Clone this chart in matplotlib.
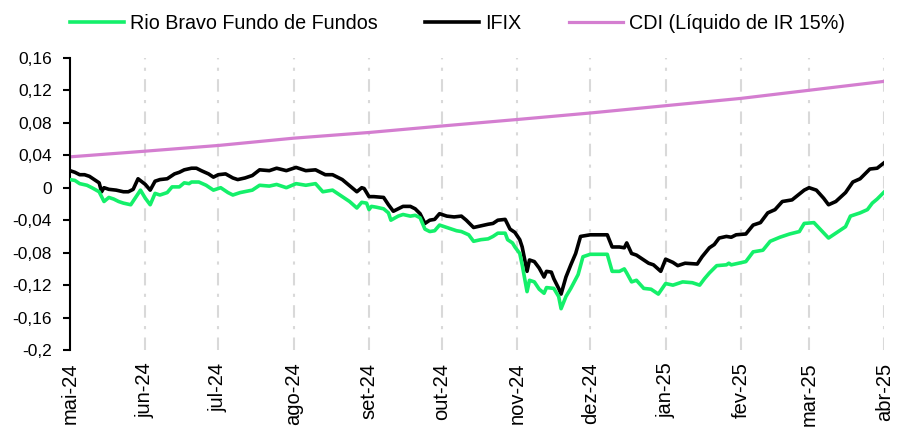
import numpy as np
import pandas as pd
import matplotlib
matplotlib.use('Agg')
import matplotlib.pyplot as plt
import matplotlib.dates as mdates
from matplotlib.ticker import FuncFormatter

plt.rcParams['font.family'] = ['Liberation Sans', 'DejaVu Sans']

start = pd.Timestamp('2024-05-01')

# IFIX - retorno acumulado (dias desde 01/05/2024)
ifix_days = [0, 2, 4, 6, 8, 10, 12, 13, 14, 16, 19, 22, 24, 26, 28, 31, 33, 35, 37, 40,
             43, 45, 47, 50, 52, 54, 57, 59, 61, 64, 67, 69, 72, 75, 78, 82, 85, 89, 93, 97,
             101, 105, 108, 112, 116, 118, 120, 121, 123, 125, 129, 131, 133, 135, 137, 140, 142, 144, 146, 148,
             150, 152, 155, 158, 161, 163, 166, 169, 172, 174, 176, 179, 181, 183, 185, 186, 188, 189, 191, 193,
             195, 196, 198, 199, 201, 202, 204, 206, 208, 210, 212, 214, 221, 223, 226, 228, 229, 231, 233, 236,
             238, 240, 243, 245, 248, 250, 253, 258, 260, 263, 265, 267, 270, 272, 274, 278, 281, 284, 287, 290,
             293, 297, 302, 304, 307, 310, 312, 315, 319, 322, 325, 329, 332, 335]
ifix_vals = [0.021, 0.019, 0.016, 0.016, 0.014, 0.010, 0.006, -0.005, 0.000, -0.002, -0.003, -0.005, -0.005, -0.002, 0.011, 0.004, -0.003, 0.008, 0.010, 0.011,
             0.017, 0.019, 0.022, 0.024, 0.024, 0.021, 0.017, 0.013, 0.016, 0.017, 0.012, 0.010, 0.012, 0.015, 0.022, 0.021, 0.024, 0.021, 0.025, 0.021,
             0.022, 0.016, 0.016, 0.010, 0.000, -0.005, 0.000, -0.001, -0.011, -0.011, -0.012, -0.021, -0.029, -0.026, -0.023, -0.023, -0.026, -0.032, -0.044, -0.040,
             -0.039, -0.032, -0.035, -0.036, -0.035, -0.040, -0.049, -0.047, -0.045, -0.044, -0.040, -0.039, -0.051, -0.055, -0.064, -0.073, -0.103, -0.089, -0.091, -0.099,
             -0.110, -0.103, -0.104, -0.112, -0.124, -0.131, -0.110, -0.095, -0.081, -0.060, -0.059, -0.058, -0.058, -0.073, -0.073, -0.074, -0.068, -0.081, -0.083, -0.089,
             -0.093, -0.095, -0.103, -0.088, -0.092, -0.096, -0.093, -0.094, -0.085, -0.074, -0.070, -0.062, -0.060, -0.061, -0.058, -0.057, -0.046, -0.043, -0.031, -0.027,
             -0.017, -0.015, -0.003, 0.000, -0.003, -0.013, -0.021, -0.017, -0.006, 0.007, 0.011, 0.023, 0.024, 0.031]

# Rio Bravo Fundo de Fundos
rbff_days = [0, 2, 4, 7, 9, 12, 14, 16, 18, 20, 22, 25, 29, 31, 33, 35, 37, 40, 42, 45,
             47, 49, 50, 53, 56, 59, 62, 65, 67, 70, 75, 78, 82, 85, 89, 93, 97, 101, 104, 108,
             112, 115, 118, 120, 122, 123, 124, 126, 129, 131, 132, 135, 137, 140, 142, 144, 146, 148, 150, 152,
             155, 159, 161, 164, 166, 169, 172, 174, 176, 179, 180, 182, 183, 185, 186, 188, 189, 191, 193, 195,
             196, 199, 201, 202, 204, 206, 209, 211, 214, 221, 223, 226, 228, 229, 231, 233, 236, 239, 242, 245,
             248, 252, 256, 259, 261, 263, 266, 270, 271, 272, 278, 281, 285, 288, 292, 296, 300, 302, 306, 312,
             316, 319, 321, 325, 328, 330, 332, 335]
rbff_vals = [0.010, 0.009, 0.005, 0.003, 0.000, -0.005, -0.017, -0.012, -0.014, -0.017, -0.019, -0.021, -0.003, -0.013, -0.021, -0.007, -0.009, -0.006, 0.001, 0.001,
             0.006, 0.005, 0.007, 0.007, 0.003, -0.003, 0.000, -0.006, -0.009, -0.006, -0.003, 0.003, 0.002, 0.004, 0.000, 0.005, 0.003, 0.005, -0.005, -0.003,
             -0.011, -0.017, -0.025, -0.018, -0.019, -0.027, -0.023, -0.024, -0.026, -0.031, -0.040, -0.035, -0.033, -0.035, -0.034, -0.037, -0.051, -0.054, -0.053, -0.046,
             -0.049, -0.053, -0.054, -0.058, -0.066, -0.064, -0.063, -0.060, -0.056, -0.056, -0.064, -0.068, -0.073, -0.081, -0.095, -0.128, -0.114, -0.116, -0.125, -0.130,
             -0.123, -0.124, -0.134, -0.149, -0.134, -0.124, -0.107, -0.085, -0.082, -0.082, -0.103, -0.103, -0.100, -0.105, -0.116, -0.114, -0.124, -0.125, -0.131, -0.118,
             -0.120, -0.116, -0.117, -0.120, -0.112, -0.105, -0.096, -0.095, -0.093, -0.095, -0.091, -0.079, -0.077, -0.066, -0.061, -0.057, -0.054, -0.044, -0.043, -0.062,
             -0.054, -0.048, -0.035, -0.031, -0.027, -0.019, -0.014, -0.005]

# CDI liquido de IR (inicio de cada mes)
cdi_months = ['2024-05-01', '2024-06-01', '2024-07-01', '2024-08-01', '2024-09-01', '2024-10-01',
              '2024-11-01', '2024-12-01', '2025-01-01', '2025-02-01', '2025-03-01', '2025-04-01']
cdi_vals = [0.038, 0.045, 0.052, 0.061, 0.068, 0.076, 0.084, 0.092, 0.101, 0.110, 0.120, 0.131]

month_labels = ['mai-24', 'jun-24', 'jul-24', 'ago-24', 'set-24', 'out-24',
                'nov-24', 'dez-24', 'jan-25', 'fev-25', 'mar-25', 'abr-25']

ifix_dates = start + pd.to_timedelta(ifix_days, unit='D')
rbff_dates = start + pd.to_timedelta(rbff_days, unit='D')
cdi_dates = pd.to_datetime(cdi_months)

fig = plt.figure(figsize=(8.97, 4.28), dpi=100)
ax = fig.add_axes([0.078, 0.182, 0.908, 0.683])

ax.plot(rbff_dates, rbff_vals, color='#14F06A', lw=2.6, label='Rio Bravo Fundo de Fundos', zorder=4)
ax.plot(ifix_dates, ifix_vals, color='black', lw=2.6, label='IFIX', zorder=3)
ax.plot(cdi_dates, cdi_vals, color='#D47ED0', lw=2.3, label='CDI (Líquido de IR 15%)', zorder=2)

ax.set_xlim(cdi_dates[0], cdi_dates[-1])
ax.set_ylim(-0.2, 0.16)
ax.set_yticks(np.arange(-0.2, 0.161, 0.04))

def fmt(v, pos):
    s = ('%.2f' % v).rstrip('0').rstrip('.')
    if s in ('-0', '0'):
        return '0'
    return s.replace('.', ',')

ax.yaxis.set_major_formatter(FuncFormatter(fmt))
ax.set_xticks(cdi_dates)
ax.set_xticklabels(month_labels, rotation=90, fontsize=14.5)
ax.tick_params(axis='x', length=0, pad=9)
ax.tick_params(axis='y', labelsize=12.5, length=5, width=1.5, direction='out', pad=8)

for d in cdi_dates[1:]:
    ax.axvline(d, color='#D9D9D9', lw=1.5, ls=(0, (6, 4, 1.5, 4)), zorder=1)

for s in ['top', 'right', 'bottom']:
    ax.spines[s].set_visible(False)
ax.spines['left'].set_linewidth(1.5)

fig.legend(loc='upper center', bbox_to_anchor=(0.51, 1.008), ncol=3, frameon=False,
           fontsize=14.2, handlelength=2.75, columnspacing=2.4, handletextpad=0.3)

fig.savefig('out.png', dpi=100)
